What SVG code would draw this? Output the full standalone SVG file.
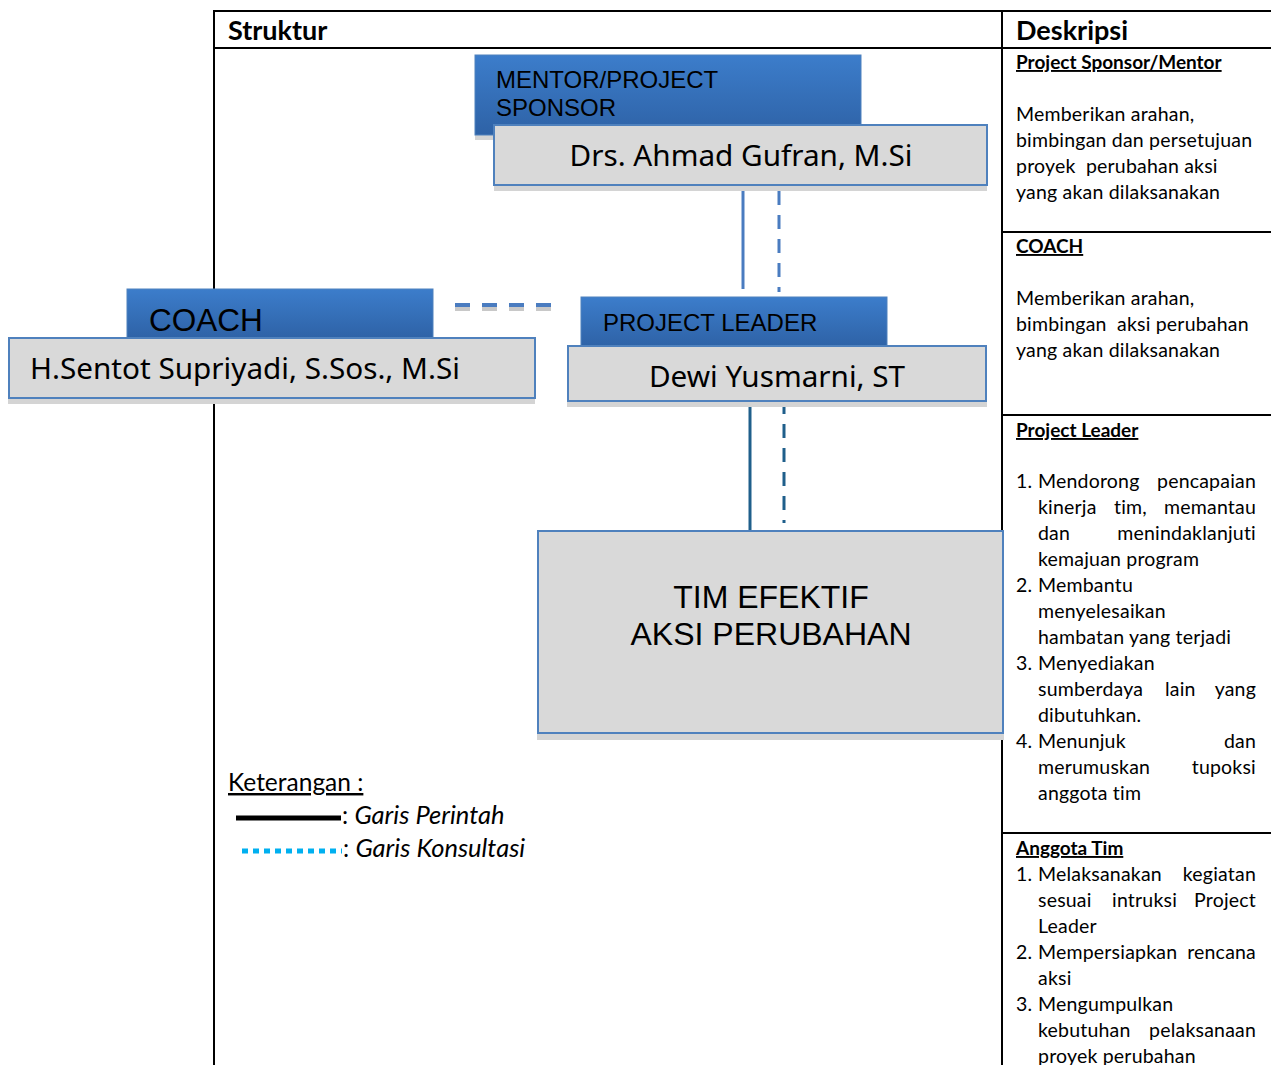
<svg xmlns="http://www.w3.org/2000/svg" width="1271" height="1065" viewBox="0 0 1271 1065">
<defs>
<linearGradient id="blueGrad" x1="0" y1="0" x2="0" y2="1">
<stop offset="0" stop-color="#3c7dcb"/>
<stop offset="1" stop-color="#2e62a6"/>
</linearGradient>
<style>
.tbl{stroke:#000;stroke-width:2;fill:none}
.hdr{font-family:Lato,"Liberation Sans",sans-serif;font-weight:bold;font-size:27px;fill:#000}
.sub{font-family:Lato,"Liberation Sans",sans-serif;font-weight:bold;font-size:19px;fill:#000;text-decoration:underline}
.desc{font-family:Lato,"Liberation Sans",sans-serif;font-size:19.5px;letter-spacing:0.2px;fill:#000}
.end{text-anchor:end}
.blue{fill:url(#blueGrad);stroke:#4f81bd;stroke-width:1}
.grey{fill:#d9d9d9;stroke:#4f81bd;stroke-width:2}
.shadow{fill:#d4d4d4}
.role{font-family:"Liberation Sans",Arial,sans-serif;fill:#000}
.name{font-family:"Noto Sans","Open Sans",sans-serif;font-size:29.7px;fill:#000}
.leg{font-family:Lato,"Liberation Sans",sans-serif;font-size:24.5px;fill:#000}
.it{font-style:italic;font-size:25.5px}
</style>
</defs>
<rect width="1271" height="1065" fill="#fff"/>

<g id="table">
<line class="tbl" x1="213" y1="11" x2="1271" y2="11"/>
<line class="tbl" x1="213" y1="48" x2="1271" y2="48"/>
<line class="tbl" x1="214" y1="10" x2="214" y2="1065"/>
<line class="tbl" x1="1002" y1="10" x2="1002" y2="1065"/>
<line class="tbl" x1="1002" y1="232" x2="1271" y2="232"/>
<line class="tbl" x1="1002" y1="415" x2="1271" y2="415"/>
<line class="tbl" x1="1002" y1="833" x2="1271" y2="833"/>
<text class="hdr" x="228" y="40">Struktur</text>
<text class="hdr" x="1016" y="40">Deskripsi</text>
</g>

<g id="desc-sponsor">
<text class="sub" x="1016" y="69">Project Sponsor/Mentor</text>
<text class="desc" x="1016" y="121">Memberikan arahan,</text>
<text class="desc" x="1016" y="147">bimbingan dan persetujuan</text>
<text class="desc" x="1016" y="173" xml:space="preserve">proyek  perubahan aksi</text>
<text class="desc" x="1016" y="199">yang akan dilaksanakan</text>
</g>

<g id="desc-coach">
<text class="sub" x="1016" y="253">COACH</text>
<text class="desc" x="1016" y="305">Memberikan arahan,</text>
<text class="desc" x="1016" y="331" xml:space="preserve">bimbingan  aksi perubahan</text>
<text class="desc" x="1016" y="357">yang akan dilaksanakan</text>
</g>

<g id="desc-leader">
<text class="sub" x="1016" y="437">Project Leader</text>
<text class="desc" x="1016" y="488">1.</text>
<text class="desc" x="1038" y="488">Mendorong</text>
<text class="desc end" x="1256" y="488">pencapaian</text>
<text class="desc" x="1038" y="514">kinerja</text>
<text class="desc" x="1114" y="514">tim,</text>
<text class="desc end" x="1256" y="514">memantau</text>
<text class="desc" x="1038" y="540">dan</text>
<text class="desc end" x="1256" y="540">menindaklanjuti</text>
<text class="desc" x="1038" y="566">kemajuan program</text>
<text class="desc" x="1016" y="592">2.</text>
<text class="desc" x="1038" y="592">Membantu</text>
<text class="desc" x="1038" y="618">menyelesaikan</text>
<text class="desc" x="1038" y="644">hambatan yang terjadi</text>
<text class="desc" x="1016" y="670">3.</text>
<text class="desc" x="1038" y="670">Menyediakan</text>
<text class="desc" x="1038" y="696">sumberdaya</text>
<text class="desc" x="1165" y="696">lain</text>
<text class="desc end" x="1256" y="696">yang</text>
<text class="desc" x="1038" y="722">dibutuhkan.</text>
<text class="desc" x="1016" y="748">4.</text>
<text class="desc" x="1038" y="748">Menunjuk</text>
<text class="desc end" x="1256" y="748">dan</text>
<text class="desc" x="1038" y="774">merumuskan</text>
<text class="desc end" x="1256" y="774">tupoksi</text>
<text class="desc" x="1038" y="800">anggota tim</text>
</g>

<g id="desc-anggota">
<text class="sub" x="1016" y="855">Anggota Tim</text>
<text class="desc" x="1016" y="881">1.</text>
<text class="desc" x="1038" y="881">Melaksanakan</text>
<text class="desc end" x="1256" y="881">kegiatan</text>
<text class="desc" x="1038" y="907">sesuai</text>
<text class="desc" x="1112" y="907">intruksi</text>
<text class="desc end" x="1256" y="907">Project</text>
<text class="desc" x="1038" y="933">Leader</text>
<text class="desc" x="1016" y="959">2.</text>
<text class="desc" x="1038" y="959">Mempersiapkan</text>
<text class="desc end" x="1256" y="959">rencana</text>
<text class="desc" x="1038" y="985">aksi</text>
<text class="desc" x="1016" y="1011">3.</text>
<text class="desc" x="1038" y="1011">Mengumpulkan</text>
<text class="desc" x="1038" y="1037">kebutuhan</text>
<text class="desc end" x="1256" y="1037">pelaksanaan</text>
<text class="desc" x="1038" y="1063">proyek perubahan</text>
</g>

<g id="connectors">
<line x1="743" y1="188" x2="743" y2="289" stroke="#4a7cc0" stroke-width="3"/>
<line x1="779" y1="191" x2="779" y2="292" stroke="#4a7cc0" stroke-width="3" stroke-dasharray="14,10"/>
<line x1="455" y1="309" x2="555" y2="309" stroke="#c8c8c8" stroke-width="4" stroke-dasharray="15,12"/>
<line x1="455" y1="305" x2="555" y2="305" stroke="#4a7cc0" stroke-width="4" stroke-dasharray="15,12"/>
<line x1="750" y1="406" x2="750" y2="531" stroke="#1f5f8b" stroke-width="3"/>
<line x1="784" y1="400" x2="784" y2="523" stroke="#1f5f8b" stroke-width="3" stroke-dasharray="14,10"/>
</g>

<g id="node-mentor">
<rect class="shadow" x="475" y="60" width="386" height="80"/>
<rect class="blue" x="475" y="55" width="386" height="80"/>
<text class="role" x="496" y="88" font-size="24">MENTOR/PROJECT</text>
<text class="role" x="496" y="116" font-size="24">SPONSOR</text>
<rect class="shadow" x="494" y="130" width="493" height="61"/>
<rect class="grey" x="494" y="125" width="493" height="60"/>
<text class="name" x="741" y="166" text-anchor="middle">Drs. Ahmad Gufran, M.Si</text>
</g>

<g id="node-coach">
<rect class="blue" x="127" y="289" width="306" height="50"/>
<text class="role" x="149" y="331" font-size="31.5">COACH</text>
<rect class="shadow" x="8" y="343" width="527" height="61"/>
<rect class="grey" x="9" y="338" width="526" height="60"/>
<text class="name" x="30" y="379">H.Sentot Supriyadi, S.Sos., M.Si</text>
</g>

<g id="node-leader">
<rect class="blue" x="581" y="297" width="306" height="50"/>
<text class="role" x="603" y="331" font-size="24">PROJECT LEADER</text>
<rect class="shadow" x="567" y="351" width="420" height="56"/>
<rect class="grey" x="568" y="346" width="418" height="55"/>
<text class="name" x="777" y="387" text-anchor="middle">Dewi Yusmarni, ST</text>
</g>

<g id="node-tim">
<rect class="shadow" x="537" y="536" width="467" height="204"/>
<rect class="grey" x="538" y="531" width="465" height="202"/>
<text class="role" x="771" y="608" font-size="32" text-anchor="middle">TIM EFEKTIF</text>
<text class="role" x="771" y="645" font-size="32" text-anchor="middle">AKSI PERUBAHAN</text>
</g>

<g id="legend">
<text class="leg" x="228" y="791" text-decoration="underline">Keterangan :</text>
<line x1="236" y1="818" x2="341" y2="818" stroke="#000" stroke-width="5"/>
<text class="leg" x="342" y="824">: <tspan class="it">Garis Perintah</tspan></text>
<line x1="242" y1="851" x2="342" y2="851" stroke="#00b0f0" stroke-width="5" stroke-dasharray="6,5"/>
<text class="leg" x="343" y="857">: <tspan class="it">Garis Konsultasi</tspan></text>
</g>
</svg>
